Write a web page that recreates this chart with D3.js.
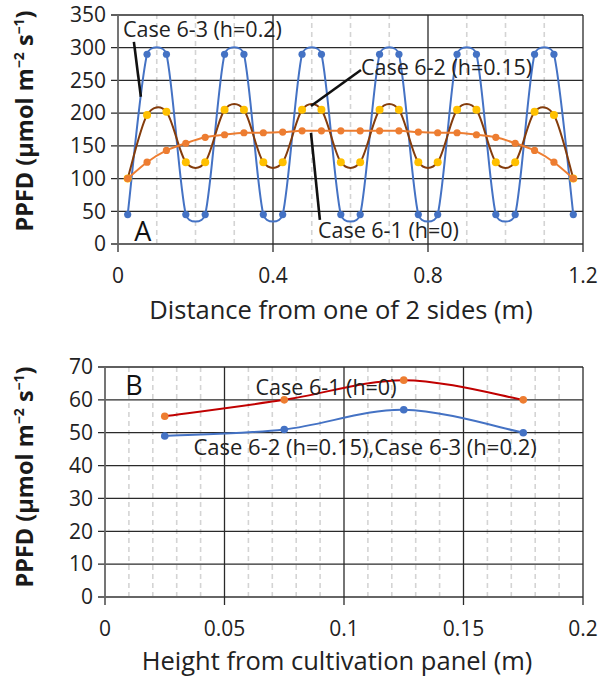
<!DOCTYPE html>
<html><head><meta charset="utf-8">
<script src="https://cdn.jsdelivr.net/npm/d3@7"></script>
<style>
html,body{margin:0;padding:0;background:#fff;}
svg{display:block;font-family:"Open Sans",sans-serif;}
</style></head>
<body><svg id="c" width="605" height="683"></svg>
<script>
// ---------- DATA ----------
const xTop = [0.025,0.075,0.125,0.175,0.225,0.275,0.325,0.375,0.425,0.475,0.525,0.575,
              0.625,0.675,0.725,0.775,0.825,0.875,0.925,0.975,1.025,1.075,1.125,1.175];
const case61Top = [100,125,143,154,163,167,170,170,171,173,173,173,
                   173,173,173,171,170,170,167,163,154,143,125,100];
const case62Top = [100,197,202,125,125,205,205,125,125,205,205,125,
                   125,205,205,125,125,205,205,125,125,202,197,100];
const case63Top = [45,290,290,45,45,290,290,45,45,290,290,45,
                   45,290,290,45,45,290,290,45,45,290,290,45];
const yTicksTop = [0,50,100,150,200,250,300,350];
const xTicksTop = [0,0.4,0.8,1.2];

const xBottom = [0.025,0.075,0.125,0.175];
const case61Bottom = [55,60,66,60];
const case623Bottom = [49,51,57,50];
const yTicksBottom = [0,10,20,30,40,50,60,70];
const xTicksBottom = [0,0.05,0.1,0.15,0.2];

const labelsTop = ["Case 6-3 (h=0.2)","Case 6-2 (h=0.15)","Case 6-1 (h=0)"];
const labelsBottom = ["Case 6-1 (h=0)","Case 6-2 (h=0.15),Case 6-3 (h=0.2)"];
const xTitleTop = "Distance from one of 2 sides (m)";
const xTitleBottom = "Height from cultivation panel (m)";

// ---------- DRAW ----------
const svg = d3.select("#c");
const C = {blue:"#4472C4", orange:"#ED7D31", yellow:"#FFC000", brown:"#843C0C", red:"#C00000"};

// spreadsheet-style smoothed line: Bezier with 1/6 tangents, control arms capped to half segment
function smoothPath(p){
  const path = d3.path();
  const n = p.length;
  const tan = p.map((q,i)=>{
    const a = p[Math.max(0,i-1)], b = p[Math.min(n-1,i+1)];
    return [(b[0]-a[0])/6,(b[1]-a[1])/6];
  });
  const cap = (t,d)=>{ const L=Math.hypot(t[0],t[1]); const s = L>d/2 ? (d/2)/L : 1; return [t[0]*s,t[1]*s]; };
  path.moveTo(p[0][0],p[0][1]);
  for(let i=0;i<n-1;i++){
    const d = Math.hypot(p[i+1][0]-p[i][0],p[i+1][1]-p[i][1]);
    const t1 = cap(tan[i],d), t2 = cap(tan[i+1],d);
    path.bezierCurveTo(p[i][0]+t1[0],p[i][1]+t1[1],p[i+1][0]-t2[0],p[i+1][1]-t2[1],p[i+1][0],p[i+1][1]);
  }
  return path.toString();
}

function yTitle(g, cx, cy){
  const t = g.append("text").attr("transform",`translate(${cx},${cy}) rotate(-90)`)
    .attr("text-anchor","middle").attr("font-weight","bold").attr("font-size",23.5).attr("fill","#1a1a1a");
  t.append("tspan").text("PPFD (µmol m");
  t.append("tspan").attr("font-size",14).attr("dy",-9).text("−2");
  t.append("tspan").attr("dy",9).text(" s");
  t.append("tspan").attr("font-size",14).attr("dy",-9).text("−1");
  t.append("tspan").attr("dy",9).text(")");
}

function frame(x, y, xMajor, xMinorStep, yTicks, xFmt){
  const g = svg.append("g");
  const [x0,x1] = x.range(), [y0,y1] = y.range();
  const dmax = x.domain()[1];
  const minors = d3.range(xMinorStep, dmax - 1e-9, xMinorStep)
     .filter(v => !xMajor.some(m => Math.abs(m - v) < 1e-9));
  g.selectAll(".mn").data(minors).join("line")
    .attr("x1",d=>x(d)).attr("x2",d=>x(d)).attr("y1",y0).attr("y2",y1)
    .attr("stroke","#d4d4d4").attr("stroke-width",1.6).attr("stroke-dasharray","5,4");
  g.selectAll(".hg").data(yTicks).join("line")
    .attr("x1",x0-7).attr("x2",x1).attr("y1",d=>y(d)).attr("y2",d=>y(d))
    .attr("stroke",d=>d===0?"#666":"#2a2a2a").attr("stroke-width",d=>d===0?1.8:1.3);
  g.selectAll(".vg").data(xMajor).join("line")
    .attr("x1",d=>x(d)).attr("x2",d=>x(d)).attr("y1",y0+8).attr("y2",y1)
    .attr("stroke",d=>d===0?"#666":"#2a2a2a").attr("stroke-width",d=>d===0?1.8:1.3);
  g.selectAll(".yl").data(yTicks).join("text")
    .attr("x",x0-12).attr("y",d=>y(d)).attr("dy","0.35em").attr("text-anchor","end")
    .attr("font-size",21).attr("fill","#222").text(d=>d);
  g.selectAll(".xl").data(xMajor).join("text")
    .attr("x",d=>x(d)).attr("y",y0+39).attr("text-anchor","middle")
    .attr("font-size",21).attr("fill","#222").text(xFmt);
  return g;
}

function series(g, x, y, xs, ys, lineColor, dotColor, r){
  const pts = xs.map((v,i)=>[v,ys[i]]);
  g.append("path").attr("d", smoothPath(pts.map(d=>[x(d[0]),y(d[1])])))
    .attr("fill","none").attr("stroke",lineColor).attr("stroke-width",2);
  g.selectAll(null).data(pts).join("circle")
    .attr("cx",d=>x(d[0])).attr("cy",d=>y(d[1])).attr("r",r).attr("fill",dotColor);
}

// ----- Top chart (A)
const xA = d3.scaleLinear().domain([0,1.2]).range([118,583]);
const yA = d3.scaleLinear().domain([0,350]).range([244,15]);
const gA = frame(xA, yA, xTicksTop, 0.1, yTicksTop, d=>d===0?"0":d3.format(".1f")(d));
series(gA, xA, yA, xTop, case63Top, C.blue, C.blue, 3.6);
series(gA, xA, yA, xTop, case62Top, C.brown, C.yellow, 4);
series(gA, xA, yA, xTop, case61Top, C.orange, C.orange, 3.6);

const leadersA = [[[0.041,309],[0.059,225]],[[0.627,266],[0.498,211]],[[0.498,170],[0.521,37]]];
gA.selectAll(".ld").data(leadersA).join("line")
  .attr("x1",d=>xA(d[0][0])).attr("y1",d=>yA(d[0][1]))
  .attr("x2",d=>xA(d[1][0])).attr("y2",d=>yA(d[1][1]))
  .attr("stroke","#111").attr("stroke-width",2.6);
const labPosA = [[0.013,316],[0.627,258],[0.516,9]];
gA.selectAll(".lb").data(labelsTop).join("text")
  .attr("x",(d,i)=>xA(labPosA[i][0])).attr("y",(d,i)=>yA(labPosA[i][1]))
  .attr("font-size",21.5).attr("fill","#222").text(d=>d);
gA.append("text").attr("x",xA(0.042)).attr("y",yA(4)).attr("font-size",27).attr("fill","#111").text("A");
gA.append("text").attr("x",341).attr("y",319).attr("text-anchor","middle")
  .attr("font-size",25.5).attr("fill","#222").text(xTitleTop);
yTitle(gA, 33, 121);

// ----- Bottom chart (B)
const xB = d3.scaleLinear().domain([0,0.2]).range([105,583]);
const yB = d3.scaleLinear().domain([0,70]).range([597,367]);
const gB = frame(xB, yB, xTicksBottom, 0.01, yTicksBottom, d=>d===0?"0":String(d));
series(gB, xB, yB, xBottom, case61Bottom, C.red, C.orange, 3.8);
series(gB, xB, yB, xBottom, case623Bottom, C.blue, C.blue, 3.8);
const labPosB = [[0.063,61.5],[0.037,43.3]];
gB.selectAll(".lb").data(labelsBottom).join("text")
  .attr("x",(d,i)=>xB(labPosB[i][0])).attr("y",(d,i)=>yB(labPosB[i][1]))
  .attr("font-size",(d,i)=>i===1?22:21.5).attr("fill","#222").text(d=>d);
gB.append("text").attr("x",xB(0.0085)).attr("y",yB(61.5)).attr("font-size",27).attr("fill","#111").text("B");
gB.append("text").attr("x",(xB(0)+xB(0.2))/2-7).attr("y",670).attr("text-anchor","middle")
  .attr("font-size",25.5).attr("fill","#222").text(xTitleBottom);
yTitle(gB, 33, 477);
</script></body></html>
